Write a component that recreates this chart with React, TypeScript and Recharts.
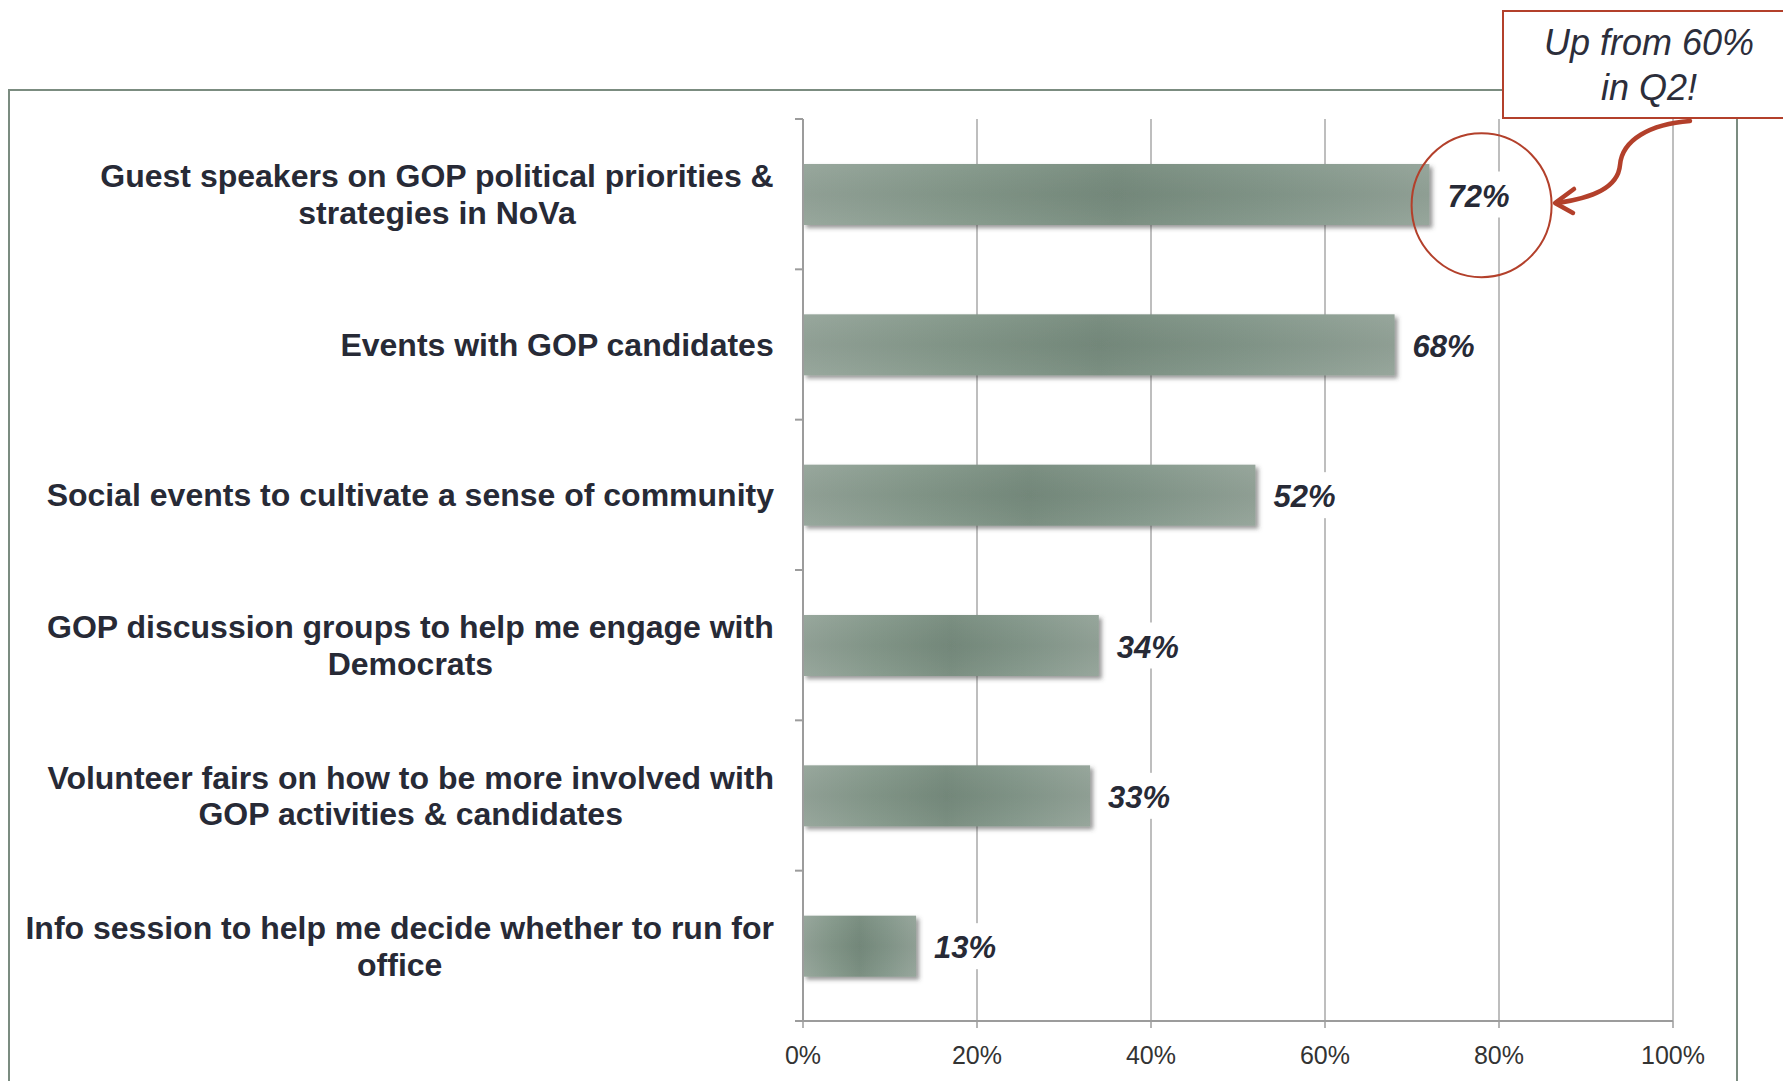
import React from "react";
import { BarChart, Bar, XAxis, YAxis, CartesianGrid, LabelList, ReferenceDot } from "recharts";

const categories = [
  "Guest speakers on GOP political priorities &\nstrategies in NoVa",
  "Events with GOP candidates",
  "Social events to cultivate a sense of community",
  "GOP discussion groups to help me engage with\nDemocrats",
  "Volunteer fairs on how to be more involved with\nGOP activities & candidates",
  "Info session to help me decide whether to run for\noffice",
];
const shares = [72, 68, 52, 34, 33, 13];
const xTicks = [0, 20, 40, 60, 80, 100];
const calloutLines = ["Up from 60%", "in Q2!"];

const data = categories.map((name, i) => ({ name, value: shares[i] }));

const W = 1783;
const H = 1081;
const MARGIN = { top: 119, right: 110, left: 0, bottom: 0 };
const Y_AXIS_W = 803;
const X_AXIS_H = 60;
const BAND = (H - MARGIN.top - MARGIN.bottom - X_AXIS_H) / categories.length;
const FONT = '"Liberation Sans", Arial, Helvetica, sans-serif';
const LABEL_SIZE = 32;
const LINE_H = 36.5;
const TEXT = "#272a36";
const AXIS = "#9c9c9c";
const RED = "#b3402b";

const ctx = typeof document !== "undefined" ? document.createElement("canvas").getContext("2d") : null;
const textWidth = (s: string) => {
  if (!ctx) return s.length * LABEL_SIZE * 0.55;
  ctx.font = `bold ${LABEL_SIZE}px ${FONT}`;
  return ctx.measureText(s).width;
};

const CategoryTick = (props: any) => {
  const { y, payload, index } = props;
  const lines = String(payload.value).split("\n");
  const blockW = Math.max(...lines.map(textWidth));
  const right = Y_AXIS_W - 29;
  const cx = right - blockW / 2;
  const y0 = y - ((lines.length - 1) * LINE_H) / 2;
  return (
    <g>
      <line x1={Y_AXIS_W - 8} x2={Y_AXIS_W} y1={y - BAND / 2} y2={y - BAND / 2} stroke={AXIS} strokeWidth={2} />
      {index === categories.length - 1 && (
        <line x1={Y_AXIS_W - 8} x2={Y_AXIS_W} y1={y + BAND / 2} y2={y + BAND / 2} stroke={AXIS} strokeWidth={2} />
      )}
      <text textAnchor="middle" fontFamily={FONT} fontWeight="bold" fontSize={LABEL_SIZE} fill={TEXT}>
        {lines.map((l, i) => (
          <tspan key={i} x={cx} y={y0 + i * LINE_H} dy="0.36em">
            {l}
          </tspan>
        ))}
      </text>
    </g>
  );
};

const ValueLabel = (props: any) => {
  const { x, y, width, height, value } = props;
  const tx = x + width + 18;
  const cy = y + height / 2;
  return (
    <g>
      <rect x={tx - 6} y={cy - 23} width={76} height={46} fill="#fff" />
      <text x={tx} y={cy + 1} dy="0.36em" fontFamily={FONT} fontSize={31} fontWeight="bold" fontStyle="italic" fill={TEXT}>
        {value}%
      </text>
    </g>
  );
};

const BarShape = (props: any) => {
  const { x, y, width, height } = props;
  return (
    <g filter="url(#barShadow)">
      <rect x={x} y={y} width={width} height={height} fill="url(#barGrad)" />
      <rect x={x} y={y} width={width} height={height} fill="url(#barGradV)" />
    </g>
  );
};

const Circle = (props: any) => (
  <ellipse cx={props.cx} cy={props.cy + 11} rx={70} ry={72} fill="none" stroke={RED} strokeWidth={2} />
);

export default function App() {
  return (
    <div style={{ position: "absolute", left: 0, top: 0, width: W, height: H, overflow: "hidden", background: "#fff" }}>
      {/* outer frame */}
      <div
        style={{
          position: "absolute",
          left: 8,
          top: 89,
          width: 1730,
          height: 1100,
          border: "2px solid #7b8c80",
          boxSizing: "border-box",
        }}
      />
      <div style={{ position: "absolute", left: 0, top: 0 }}>
        <BarChart width={W} height={H} data={data} layout="vertical" margin={MARGIN}>
          <defs>
            <linearGradient id="barGrad" x1="0" y1="0" x2="1" y2="0">
              <stop offset="0%" stopColor="#94a499" />
              <stop offset="25%" stopColor="#84988a" />
              <stop offset="50%" stopColor="#768b7d" />
              <stop offset="75%" stopColor="#83978a" />
              <stop offset="100%" stopColor="#93a398" />
            </linearGradient>
            <linearGradient id="barGradV" x1="0" y1="0" x2="0" y2="1">
              <stop offset="0%" stopColor="#ffffff" stopOpacity={0.04} />
              <stop offset="50%" stopColor="#000000" stopOpacity={0.03} />
              <stop offset="100%" stopColor="#ffffff" stopOpacity={0.04} />
            </linearGradient>
            <filter id="barShadow" x="-5%" y="-20%" width="115%" height="150%">
              <feDropShadow dx={3} dy={3} stdDeviation={2} floodColor="#444" floodOpacity={0.55} />
            </filter>
          </defs>
          <CartesianGrid horizontal={false} stroke="#a8a8a8" strokeWidth={1.5} />
          <XAxis
            type="number"
            domain={[0, 100]}
            ticks={xTicks}
            height={X_AXIS_H}
            tickFormatter={(v: number) => `${v}%`}
            tick={{ fontFamily: FONT, fontSize: 25, fill: "#333" }}
            axisLine={{ stroke: AXIS, strokeWidth: 2 }}
            tickLine={{ stroke: AXIS, strokeWidth: 1.5 }}
            tickSize={7}
            tickMargin={18}
          />
          <YAxis
            type="category"
            dataKey="name"
            width={Y_AXIS_W}
            axisLine={{ stroke: AXIS, strokeWidth: 2 }}
            tickLine={false}
            tick={<CategoryTick />}
            interval={0}
          />
          <Bar dataKey="value" barSize={61} shape={<BarShape />} isAnimationActive={false}>
            <LabelList dataKey="value" content={<ValueLabel />} />
          </Bar>
          <ReferenceDot x={78} y={categories[0]} r={71} shape={<Circle />} />
        </BarChart>
      </div>
      {/* callout box */}
      <div
        style={{
          position: "absolute",
          left: 1502,
          top: 10,
          width: 294,
          height: 109,
          border: `2px solid ${RED}`,
          boxSizing: "border-box",
          background: "#fff",
          display: "flex",
          flexDirection: "column",
          justifyContent: "center",
          alignItems: "center",
          fontFamily: FONT,
          fontStyle: "italic",
          fontSize: 36,
          lineHeight: "45px",
          color: "#2c2e3b",
        }}
      >
        {calloutLines.map((l) => (
          <div key={l}>{l}</div>
        ))}
      </div>
      <svg width={W} height={H} style={{ position: "absolute", left: 0, top: 0, pointerEvents: "none" }}>
        <path
          d="M1690 121 C1650 124 1622 140 1620 165 C1618 188 1592 198 1557 203"
          fill="none"
          stroke={RED}
          strokeWidth={4.5}
          strokeLinecap="round"
        />
        <path d="M1574 189 L1555 203 L1573 213" fill="none" stroke={RED} strokeWidth={4.5} strokeLinecap="round" strokeLinejoin="round" />
      </svg>
    </div>
  );
}
